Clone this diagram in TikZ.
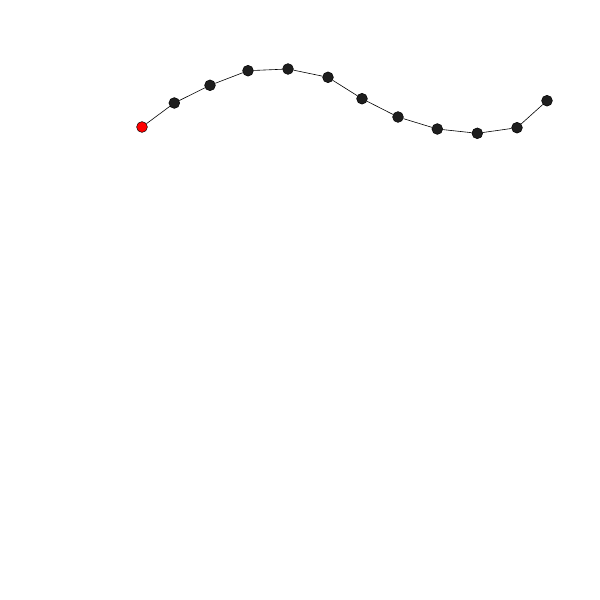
\documentclass[tikz,border=0pt]{standalone}
\begin{document}
\begin{tikzpicture}[x=1pt,y=-1pt,
  dot/.style={circle,draw=black,fill={rgb,255:red,30;green,30;blue,30},inner sep=0pt,minimum size=10.8pt,line width=0.5pt},
  reddot/.style={dot,fill=red},
  link/.style={draw=black,line width=0.6pt}]
\useasboundingbox (0,0) rectangle (600,600);
\node[reddot] (n0) at (142,127) {};
\node[dot] (n1) at (174.3,103) {};
\node[dot] (n2) at (210,85.3) {};
\node[dot] (n3) at (248,70.7) {};
\node[dot] (n4) at (288,69) {};
\node[dot] (n5) at (328,77.3) {};
\node[dot] (n6) at (362,98.7) {};
\node[dot] (n7) at (398,117) {};
\node[dot] (n8) at (437.3,129) {};
\node[dot] (n9) at (477.3,133.3) {};
\node[dot] (n10) at (517,127.7) {};
\node[dot] (n11) at (547,100.7) {};
\foreach \a/\b in {n0/n1,n1/n2,n2/n3,n3/n4,n4/n5,n5/n6,n6/n7,n7/n8,n8/n9,n9/n10,n10/n11}
  \draw[link] (\a) -- (\b);
\end{tikzpicture}
\end{document}
